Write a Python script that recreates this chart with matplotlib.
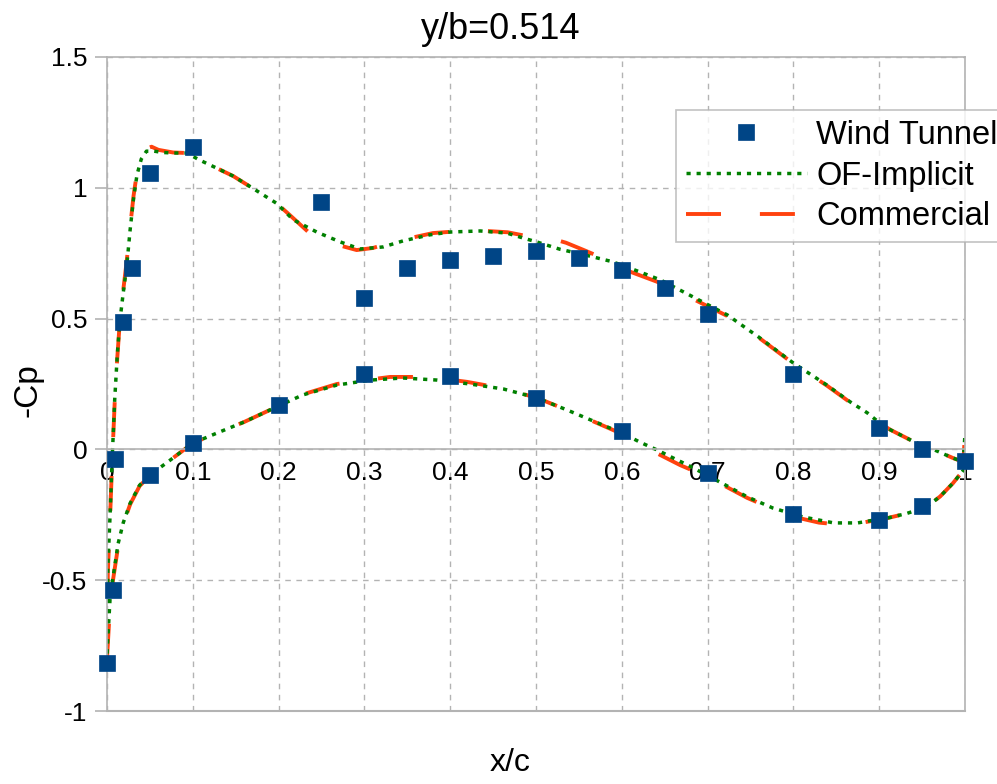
import matplotlib
matplotlib.use("Agg")
import matplotlib.pyplot as plt

plt.rcParams['font.family'] = ['Liberation Sans', 'DejaVu Sans']

# wind tunnel measurements
wt_x_upper = [0.0, 0.007, 0.009, 0.019, 0.029, 0.05, 0.1, 0.25, 0.3, 0.35, 0.4, 0.45,
              0.5, 0.55, 0.6, 0.65, 0.7, 0.8, 0.9, 0.95, 1.0]
wt_cp_upper = [-0.817, -0.537, -0.037, 0.488, 0.694, 1.057, 1.156, 0.946, 0.579, 0.694,
               0.725, 0.74, 0.759, 0.732, 0.686, 0.617, 0.518, 0.289, 0.082, 0.0, -0.044]
wt_x_lower = [0.05, 0.1, 0.2, 0.3, 0.4, 0.5, 0.6, 0.7, 0.8, 0.9, 0.95]
wt_cp_lower = [-0.098, 0.025, 0.17, 0.289, 0.281, 0.197, 0.07, -0.09, -0.247, -0.27, -0.216]

# OF-Implicit
of_x_upper = [0.0, 0.001, 0.0035, 0.006, 0.009, 0.012, 0.015, 0.019, 0.023, 0.027, 0.031,
              0.035, 0.04, 0.046, 0.055, 0.065, 0.077, 0.093, 0.108, 0.128, 0.147, 0.17,
              0.198, 0.217, 0.245, 0.272, 0.295, 0.322, 0.345, 0.376, 0.4, 0.435, 0.466,
              0.485, 0.501, 0.528, 0.555, 0.586, 0.6, 0.645, 0.683, 0.723, 0.761, 0.8,
              0.839, 0.866, 0.886, 0.901, 0.913, 0.94, 0.963, 0.986, 0.998, 1.0]
of_cp_upper = [-0.78, -0.45, -0.26, -0.04, 0.19, 0.36, 0.49, 0.6, 0.7, 0.84, 0.96,
               1.05, 1.11, 1.14, 1.14, 1.135, 1.133, 1.133, 1.106, 1.075, 1.045, 0.998,
               0.94, 0.878, 0.83, 0.793, 0.766, 0.774, 0.797, 0.82, 0.831, 0.835, 0.827,
               0.808, 0.793, 0.765, 0.745, 0.72, 0.705, 0.648, 0.583, 0.514, 0.426, 0.33,
               0.246, 0.182, 0.14, 0.1, 0.075, 0.03, 0.0, -0.033, -0.048, 0.06]
of_x_lower = [0.0, 0.0035, 0.007, 0.013, 0.019, 0.027, 0.038, 0.05, 0.07, 0.1, 0.13, 0.16,
              0.198, 0.228, 0.268, 0.307, 0.345, 0.385, 0.423, 0.462, 0.501, 0.536, 0.583,
              0.601, 0.621, 0.641, 0.66, 0.68, 0.7, 0.723, 0.746, 0.776, 0.811, 0.847,
              0.875, 0.894, 0.909, 0.932, 0.955, 0.971, 0.986, 0.998, 1.0]
of_cp_lower = [-0.78, -0.575, -0.49, -0.36, -0.28, -0.206, -0.137, -0.098, -0.05, 0.024,
               0.065, 0.105, 0.163, 0.208, 0.246, 0.265, 0.273, 0.265, 0.25, 0.231, 0.197,
               0.151, 0.086, 0.062, 0.028, -0.002, -0.033, -0.065, -0.1, -0.14, -0.181,
               -0.224, -0.258, -0.281, -0.281, -0.27, -0.263, -0.245, -0.22, -0.18, -0.129,
               -0.08, -0.06]

# Commercial
com_x_upper = [0.0, 0.001, 0.0035, 0.006, 0.009, 0.012, 0.015, 0.019, 0.023, 0.027, 0.031,
               0.035, 0.04, 0.046, 0.052, 0.06, 0.077, 0.093, 0.108, 0.128, 0.147, 0.17,
               0.198, 0.213, 0.235, 0.252, 0.272, 0.291, 0.31, 0.338, 0.38, 0.427, 0.467,
               0.49, 0.516, 0.535, 0.555, 0.586, 0.61, 0.641, 0.683, 0.723, 0.761, 0.8,
               0.839, 0.866, 0.886, 0.901, 0.913, 0.94, 0.963, 0.986, 0.998, 1.0]
com_cp_upper = [-0.8, -0.47, -0.27, -0.05, 0.18, 0.35, 0.49, 0.61, 0.72, 0.85, 0.97,
                1.06, 1.12, 1.15, 1.157, 1.145, 1.135, 1.133, 1.106, 1.075, 1.045, 0.998,
                0.94, 0.896, 0.83, 0.794, 0.779, 0.762, 0.77, 0.797, 0.827, 0.838, 0.83,
                0.815, 0.808, 0.79, 0.763, 0.72, 0.679, 0.641, 0.575, 0.51, 0.424, 0.328,
                0.244, 0.18, 0.14, 0.1, 0.075, 0.03, 0.0, -0.033, -0.048, 0.06]
com_x_lower = [0.0, 0.0035, 0.007, 0.013, 0.019, 0.027, 0.038, 0.05, 0.07, 0.1, 0.13, 0.16,
               0.198, 0.228, 0.268, 0.287, 0.33, 0.376, 0.42, 0.462, 0.501, 0.536, 0.583,
               0.601, 0.629, 0.668, 0.7, 0.723, 0.746, 0.776, 0.81, 0.83, 0.847, 0.875,
               0.894, 0.909, 0.932, 0.955, 0.971, 0.986, 0.998, 1.0]
com_cp_lower = [-0.8, -0.6, -0.5, -0.37, -0.285, -0.21, -0.14, -0.1, -0.05, 0.024, 0.065,
                0.105, 0.163, 0.21, 0.25, 0.259, 0.277, 0.277, 0.258, 0.233, 0.197, 0.151,
                0.084, 0.058, 0.005, -0.06, -0.105, -0.145, -0.185, -0.228, -0.265, -0.28,
                -0.285, -0.283, -0.272, -0.263, -0.245, -0.22, -0.18, -0.129, -0.08, -0.06]

x_ticks = [0, 0.1, 0.2, 0.3, 0.4, 0.5, 0.6, 0.7, 0.8, 0.9, 1]
x_tick_labels = ['0', '0.1', '0.2', '0.3', '0.4', '0.5', '0.6', '0.7', '0.8', '0.9', '1']
y_ticks = [-1, -0.5, 0, 0.5, 1, 1.5]
y_tick_labels = ['-1', '-0.5', '0', '0.5', '1', '1.5']

grey = '#b3b3b3'
wt_col = '#004586'
of_col = '#008000'
com_col = '#ff420e'

fig = plt.figure(figsize=(9.97, 7.84), dpi=100)
ax = fig.add_axes([0.1073, 0.0931, 0.8606, 0.8342])

com_kw = dict(color=com_col, lw=2.8, dashes=(9, 10))
ax.plot(com_x_upper, com_cp_upper, label='Commercial', **com_kw)
ax.plot(com_x_lower, com_cp_lower, **com_kw)

of_kw = dict(color=of_col, lw=2.5, dashes=(1.2, 1.7))
ax.plot(of_x_upper, of_cp_upper, label='OF-Implicit', **of_kw)
ax.plot(of_x_lower, of_cp_lower, **of_kw)

wt_kw = dict(ls='none', marker='s', ms=12, color=wt_col, mec=wt_col, mew=0.5,
             clip_on=False, zorder=5)
ax.plot(wt_x_upper, wt_cp_upper, label='Wind Tunnel', **wt_kw)
ax.plot(wt_x_lower, wt_cp_lower, **wt_kw)

ax.set_xlim(0, 1)
ax.set_ylim(-1, 1.5)
ax.set_xticks(x_ticks)
ax.set_xticklabels(x_tick_labels)
ax.set_yticks(y_ticks)
ax.set_yticklabels(y_tick_labels)

ax.grid(True, color=grey, ls=(0, (4, 4)), lw=1)
ax.set_axisbelow(True)
for s in ax.spines.values():
    s.set_color(grey)
    s.set_linewidth(1.2)
ax.spines['bottom'].set_position(('data', 0))
ax.axhline(-1, color=grey, lw=1.5, clip_on=False, zorder=0.5)

ax.tick_params(axis='x', length=0, pad=8, labelsize=19)
ax.tick_params(axis='y', length=9, width=1.2, color=grey, pad=5, labelsize=19)

fig.text(0.502, 0.962, 'y/b=0.514', fontsize=26, ha='center', va='center')
fig.text(0.512, 0.027, 'x/c', fontsize=23, ha='center', va='center')
fig.text(0.028, 0.503, '-Cp', fontsize=24, ha='center', va='center', rotation=90)

handles, labels = ax.get_legend_handles_labels()
order = [2, 1, 0]
leg = fig.legend([handles[i] for i in order], [labels[i] for i in order],
                 loc='upper left', bbox_to_anchor=(676 / 997, 1 - 110 / 784),
                 fontsize=23.5, frameon=True, fancybox=False, handlelength=3.7,
                 handletextpad=0.3, borderpad=0.3, labelspacing=0.3,
                 borderaxespad=0, numpoints=1)
leg.get_frame().set_edgecolor(grey)
leg.get_frame().set_linewidth(1.2)

fig.savefig('out.png', dpi=100)
